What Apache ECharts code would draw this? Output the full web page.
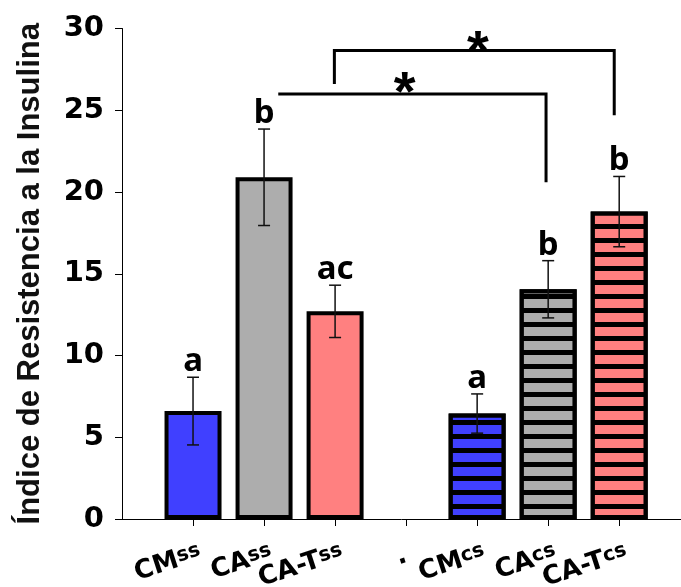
<!DOCTYPE html>
<html>
<head>
<meta charset="utf-8">
<script src="https://cdn.jsdelivr.net/npm/echarts@6/dist/echarts.min.js"></script>
<style>
html,body{margin:0;padding:0;background:#fff;}
#chart{width:681px;height:587px;}
</style>
</head>
<body>
<div id="chart"></div>
<script>
// ---- data ----
const tickMain = ['CM', 'CA', 'CA-T', '.', 'CM', 'CA', 'CA-T'];
const tickSub  = ['ss', 'ss', 'ss', '', 'cs', 'cs', 'cs'];
const tickPos  = [1, 2, 3, 4, 5, 6, 7];
const barPos   = [1, 2, 3, 5, 6, 7];
const means    = [6.6, 20.9, 12.7, 6.45, 14.05, 18.8];
const errs     = [2.07, 2.95, 1.6, 1.2, 1.75, 2.15];
const letters  = ['a', 'b', 'ac', 'a', 'b', 'b'];
const colors   = ['#4040FF', '#ADADAD', '#FF8080', '#4040FF', '#ADADAD', '#FF8080'];
const striped  = [false, false, false, true, true, true];
// brackets: [xLeft, yLeftEnd, yTop, xRight, yRightEnd]
const brackets = [[2.2, 26.0, 26.0, 5.97, 20.6], [2.99, 26.6, 28.65, 6.93, 24.7]];
// asterisks: [x, y]
const stars    = [[3.98, 26.8], [5.01, 29.3]];
const yTitle   = 'Índice de Resistencia a la Insulina';

const X_MAX = 7.87;
// label slots: empty guards at both ends so no real label is treated as min/max
const labelPos = [0].concat(tickPos, [X_MAX]);

const stripeDecal = {
  symbol: 'rect', symbolSize: 1, color: '#000',
  dashArrayX: [1, 0], dashArrayY: [5, 9], rotation: 0
};

const barData = barPos.map((x, i) => ({
  value: [x, means[i]],
  itemStyle: Object.assign({ color: colors[i] }, striped[i] ? { decal: stripeDecal } : {})
}));

const chart = echarts.init(document.getElementById('chart'), null, { renderer: 'canvas' });

const option = {
  animation: false,
  backgroundColor: '#fff',
  grid: { left: 122, right: 0, top: 28.5, bottom: 68, containLabel: false, outerBoundsMode: 'none' },
  xAxis: {
    type: 'value', min: 0, max: X_MAX, interval: 1,
    axisLine: { show: true, lineStyle: { color: '#000', width: 1 } },
    axisTick: { show: true, length: 7, customValues: tickPos, lineStyle: { color: '#000', width: 1 } },
    splitLine: { show: false },
    axisLabel: {
      show: true, rotate: 18, margin: 36, hideOverlap: false,
      showMinLabel: true, showMaxLabel: true,
      customValues: labelPos,
      color: '#000',
      formatter: function (v) {
        const i = Math.round(v) - 1;
        if (Math.abs(v - Math.round(v)) > 1e-6 || i < 0 || i >= tickMain.length) return '';
        return '{m|' + tickMain[i] + '}' + (tickSub[i] ? '{s|' + tickSub[i] + '}' : '');
      },
      rich: {
        m: { fontFamily: 'DejaVu Sans', fontWeight: 'bold', fontSize: 26, color: '#000' },
        s: { fontFamily: 'DejaVu Sans', fontWeight: 'bold', fontSize: 20, color: '#000', verticalAlign: 'top', padding: [0, -8, 0, 0] }
      }
    }
  },
  yAxis: {
    type: 'value', min: 0, max: 30, interval: 5,
    name: yTitle, nameLocation: 'middle', nameRotate: 90, nameGap: 76,
    nameTextStyle: { fontFamily: 'Liberation Sans', fontWeight: 'bold', fontSize: 31, color: '#111' },
    axisLine: { show: true, lineStyle: { color: '#000', width: 1 } },
    axisTick: { show: true, length: 7, inside: false, lineStyle: { color: '#000', width: 1 } },
    splitLine: { show: false },
    axisLabel: { margin: 18, fontFamily: 'DejaVu Sans', fontWeight: 'bold', fontSize: 29, color: '#000' }
  },
  series: [
    {
      type: 'bar', data: barData, barWidth: 57,
      itemStyle: { borderColor: '#000', borderWidth: 4 },
      z: 2
    },
    {
      type: 'custom', z: 5, clip: false,
      data: barPos.map((x, i) => [x, means[i], errs[i], i]),
      renderItem: function (params, api) {
        const x = api.value(0), m = api.value(1), e = api.value(2), idx = api.value(3);
        const top = api.coord([x, m + e]);
        const bot = api.coord([x, m - e]);
        const cap = 6;
        const ls = { stroke: '#111', lineWidth: 1.5 };
        return {
          type: 'group',
          children: [
            { type: 'line', shape: { x1: top[0], y1: top[1], x2: bot[0], y2: bot[1] }, style: ls },
            { type: 'line', shape: { x1: top[0] - cap, y1: top[1], x2: top[0] + cap, y2: top[1] }, style: ls },
            { type: 'line', shape: { x1: bot[0] - cap, y1: bot[1], x2: bot[0] + cap, y2: bot[1] }, style: ls },
            { type: 'text', style: {
                text: letters[idx], x: top[0], y: top[1] + 1,
                align: 'center', verticalAlign: 'bottom',
                font: 'bold 33px "Noto Sans"', fill: '#000'
            } }
          ]
        };
      }
    },
    {
      type: 'custom', z: 6, clip: false,
      data: brackets,
      renderItem: function (params, api) {
        const p1 = api.coord([api.value(0), api.value(1)]);
        const p2 = api.coord([api.value(0), api.value(2)]);
        const p3 = api.coord([api.value(3), api.value(2)]);
        const p4 = api.coord([api.value(3), api.value(4)]);
        return {
          type: 'polyline',
          shape: { points: [p1, p2, p3, p4] },
          style: { stroke: '#000', lineWidth: 3, fill: null, lineJoin: 'miter' }
        };
      }
    },
    {
      type: 'custom', z: 7, clip: false,
      data: stars,
      renderItem: function (params, api) {
        const p = api.coord([api.value(0), api.value(1)]);
        return {
          type: 'text',
          style: {
            text: '*', x: p[0], y: p[1] + 14, align: 'center', verticalAlign: 'middle',
            font: 'bold 56px "Liberation Sans"', fill: '#000'
          }
        };
      }
    }
  ]
};
chart.setOption(option);
</script>
</body>
</html>
